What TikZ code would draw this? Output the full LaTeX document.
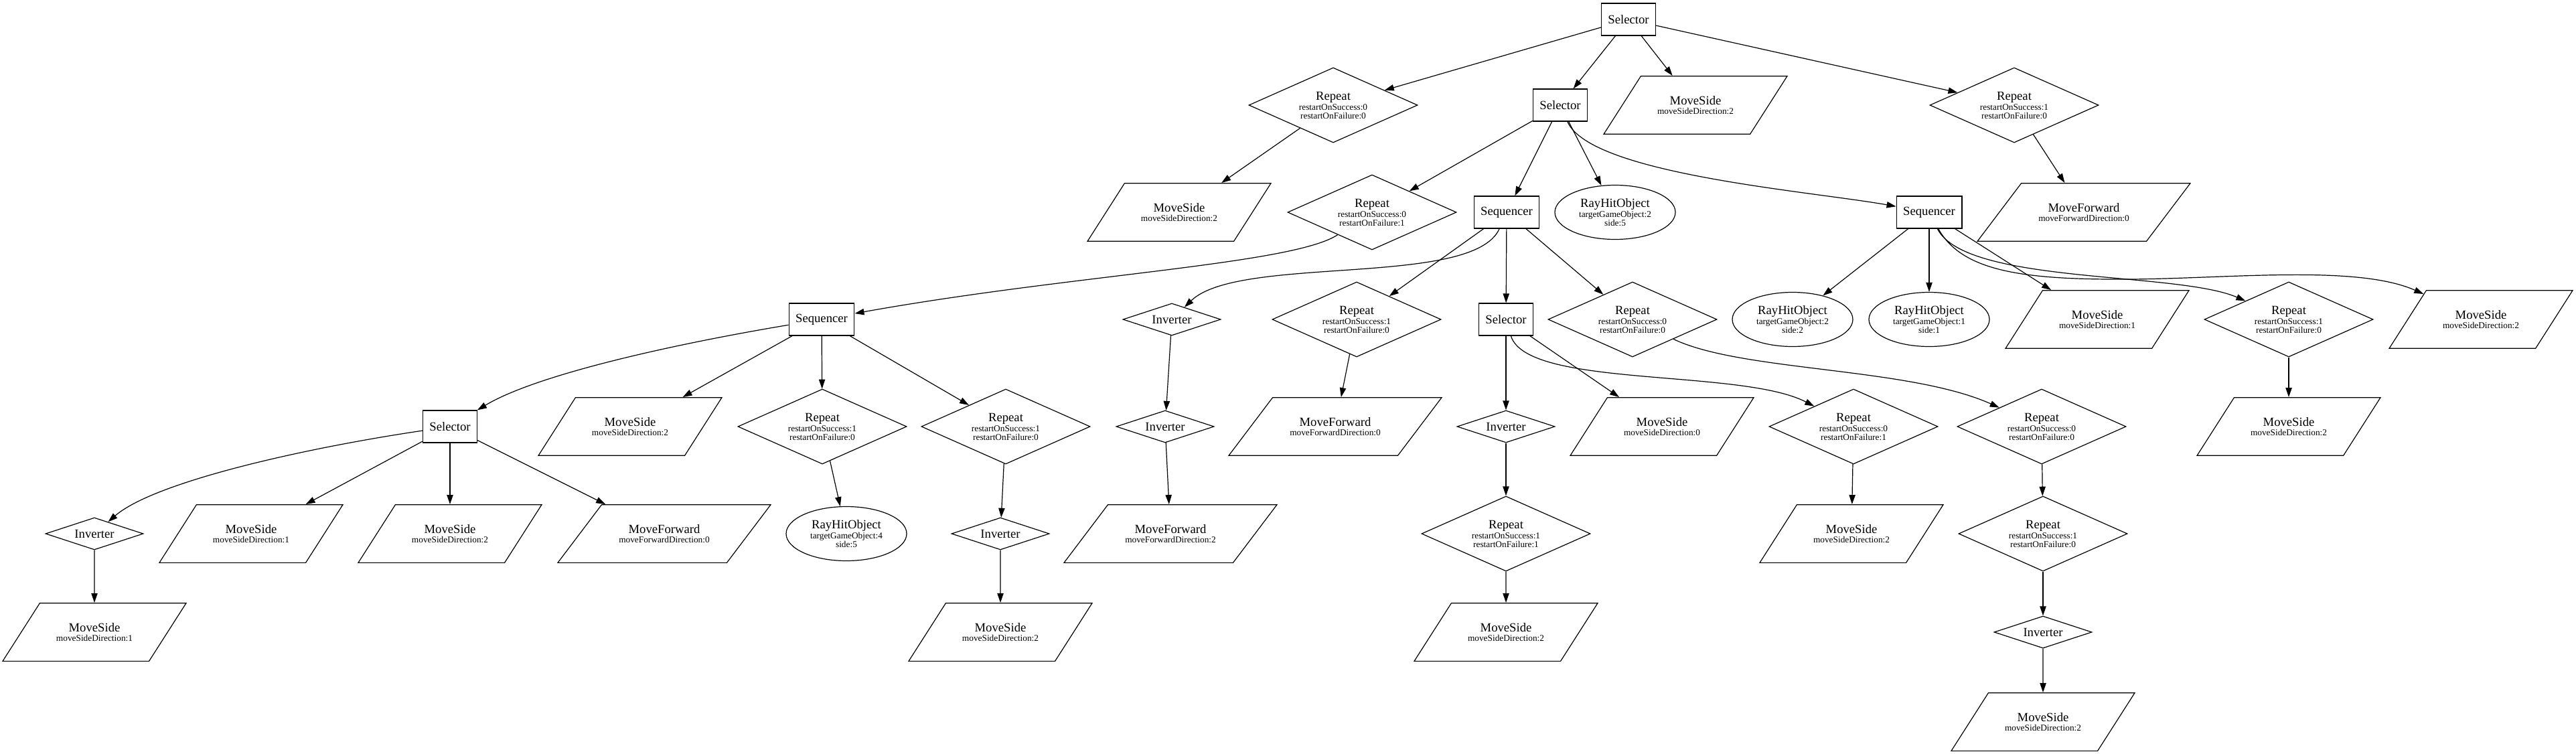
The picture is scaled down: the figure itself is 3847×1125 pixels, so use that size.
\documentclass[tikz,border=0pt]{standalone}
\usepackage{fontspec}
\setmainfont{Liberation Serif}
\usetikzlibrary{shapes.geometric,arrows.meta}
\newcommand{\subfont}{\fontsize{10}{9.75}\selectfont}
\newcommand{\rplbl}[2]{Repeat\\[1.5pt]{\subfont restartOnSuccess:#1}\\{\subfont restartOnFailure:#2}}
\newcommand{\mslbl}[1]{MoveSide\\[1pt]{\subfont moveSideDirection:#1}}
\newcommand{\mflbl}[1]{MoveForward\\[1pt]{\subfont moveForwardDirection:#1}}
\newcommand{\hitlbl}[2]{RayHitObject\\[1pt]{\subfont targetGameObject:#1}\\{\subfont side:#2}}
\tikzset{
  treenode/.style={draw, line width=0.9pt, align=center, font={\fontsize{14}{9.75}\selectfont\lineskiplimit=-20pt}},
  ctrlbox/.style={treenode, rectangle, minimum height=36pt, inner xsep=7.5pt},
  repnode/.style={treenode, diamond, aspect=2.25, inner sep=0pt, minimum width=189pt, minimum height=84pt},
  invnode/.style={treenode, diamond, aspect=3, inner sep=0pt, minimum width=109.5pt, minimum height=36pt},
  hitnode/.style={treenode, ellipse, inner sep=0pt, minimum width=135pt, minimum height=60.75pt},
  sidenode/.style={treenode, trapezium, trapezium left angle=57.4, trapezium right angle=122.6, trapezium stretches body, inner ysep=22.2pt, minimum width=205.5pt, minimum height=64.5pt},
  fwdnode/.style={sidenode, trapezium left angle=52.9, trapezium right angle=127.1, minimum width=238.5pt},
}
\begin{document}
\begin{tikzpicture}[x=0.75pt, y=-0.75pt, line width=0.9pt, >={Triangle[length=10.5pt,width=7pt]}]
\fill[white] (0,0) rectangle (3847,1125);
\useasboundingbox (0,0) rectangle (3847,1125);
% level 0 and 1
\node[ctrlbox] (S0) at (2432,29) {Selector};
\node[repnode] (R1a) at (1991,157) {\rplbl{0}{0}};
\node[ctrlbox] (S1) at (2330,157) {Selector};
\node[sidenode] (M1) at (2532,157) {\mslbl{2}};
\node[repnode] (R1b) at (3008,157) {\rplbl{1}{0}};
% level 2
\node[sidenode] (M2) at (1761,317) {\mslbl{2}};
\node[repnode] (R2) at (2049,317) {\rplbl{0}{1}};
\node[ctrlbox] (Q2a) at (2250,317) {Sequencer};
\node[hitnode] (H2) at (2412,317) {\hitlbl{2}{5}};
\node[ctrlbox] (Q2b) at (2881,317) {Sequencer};
\node[fwdnode] (F2) at (3112,317) {\mflbl{0}};
% level 3
\node[ctrlbox] (Q3a) at (1227,477) {Sequencer};
\node[invnode] (I3) at (1750,477) {Inverter};
\node[repnode] (R3a) at (2026,477) {\rplbl{1}{0}};
\node[ctrlbox] (S3) at (2249,477) {Selector};
\node[repnode] (R3b) at (2438,477) {\rplbl{0}{0}};
\node[hitnode] (H3a) at (2677,477) {\hitlbl{2}{2}};
\node[hitnode] (H3b) at (2881,477) {\hitlbl{1}{1}};
\node[sidenode] (M3a) at (3132,477) {\mslbl{1}};
\node[repnode] (R3c) at (3418,477) {\rplbl{1}{0}};
\node[sidenode] (M3b) at (3705,477) {\mslbl{2}};
% level 4
\node[ctrlbox] (S4) at (672,637) {Selector};
\node[sidenode] (M4a) at (941,637) {\mslbl{2}};
\node[repnode] (R4a) at (1228,637) {\rplbl{1}{0}};
\node[repnode] (R4b) at (1502,637) {\rplbl{1}{0}};
\node[invnode] (I4) at (1740,637) {Inverter};
\node[fwdnode] (F4) at (1994,637) {\mflbl{0}};
\node[invnode] (I4b) at (2249,637) {Inverter};
\node[sidenode] (M4b) at (2482,637) {\mslbl{0}};
\node[repnode] (R4c) at (2768,637) {\rplbl{0}{1}};
\node[repnode] (R4d) at (3049,637) {\rplbl{0}{0}};
\node[sidenode] (M4c) at (3418,637) {\mslbl{2}};
% level 5
\node[invnode] (I5a) at (141,797) {Inverter};
\node[sidenode] (M5a) at (375,797) {\mslbl{1}};
\node[sidenode] (M5b) at (672,797) {\mslbl{2}};
\node[fwdnode] (F5a) at (992,797) {\mflbl{0}};
\node[hitnode] (H5) at (1264,797) {\hitlbl{4}{5}};
\node[invnode] (I5b) at (1494,797) {Inverter};
\node[fwdnode] (F5b) at (1748,797) {\mflbl{2}};
\node[repnode] (R5a) at (2249,797) {\rplbl{1}{1}};
\node[sidenode] (M5c) at (2765,797) {\mslbl{2}};
\node[repnode] (R5b) at (3051,797) {\rplbl{1}{0}};
% level 6 and 7
\node[sidenode] (M6a) at (141,944) {\mslbl{1}};
\node[sidenode] (M6b) at (1494,944) {\mslbl{2}};
\node[sidenode] (M6c) at (2249,944) {\mslbl{2}};
\node[invnode] (I6) at (3051,944) {Inverter};
\node[sidenode] (M7) at (3051,1078) {\mslbl{2}};
% edges
\draw[->] (S0)--(R1a);
\draw[->] (S0)--(S1);
\draw[->] (S0)--(M1);
\draw[->] (S0)--(R1b);
\draw[->] (R1a)--(M2);
\draw[->] (S1)--(R2);
\draw[->] (S1)--(Q2a);
\draw[->] (S1)--(H2);
\draw[->] (S1) .. controls (2375,260) and (2700,285) .. (Q2b);
\draw[->] (R1b)--(F2);
\draw[->] (R2) .. controls (1930,395) and (1600,410) .. (Q3a);
\draw[->] (Q2a) .. controls (2200,430) and (1850,380) .. (I3);
\draw[->] (Q2a)--(R3a);
\draw[->] (Q2a)--(S3);
\draw[->] (Q2a)--(R3b);
\draw[->] (Q2b)--(H3a);
\draw[->] (Q2b)--(H3b);
\draw[->] (Q2b)--(M3a);
\draw[->] (Q2b) .. controls (2935,425) and (3250,405) .. (R3c);
\draw[->] (Q2b) .. controls (2930,405) and (3020,418) .. (3180,417)
  .. controls (3330,416) and (3520,395) .. (M3b);
\draw[->] (Q3a) .. controls (1000,515) and (800,560) .. (S4);
\draw[->] (Q3a)--(M4a);
\draw[->] (Q3a)--(R4a);
\draw[->] (Q3a)--(R4b);
\draw[->] (I3)--(I4);
\draw[->] (R3a)--(F4);
\draw[->] (S3)--(I4b);
\draw[->] (S3)--(M4b);
\draw[->] (S3) .. controls (2280,580) and (2600,550) .. (R4c);
\draw[->] (R3b) .. controls (2600,555) and (2850,548) .. (R4d);
\draw[->] (R3c)--(M4c);
\draw[->] (S4) .. controls (450,670) and (230,720) .. (I5a);
\draw[->] (S4)--(M5a);
\draw[->] (S4)--(M5b);
\draw[->] (S4)--(F5a);
\draw[->] (R4a)--(H5);
\draw[->] (R4b)--(I5b);
\draw[->] (I4)--(F5b);
\draw[->] (I4b)--(R5a);
\draw[->] (R4c)--(M5c);
\draw[->] (R4d)--(R5b);
\draw[->] (I5a)--(M6a);
\draw[->] (I5b)--(M6b);
\draw[->] (R5a)--(M6c);
\draw[->] (R5b)--(I6);
\draw[->] (I6)--(M7);
\end{tikzpicture}
\end{document}
